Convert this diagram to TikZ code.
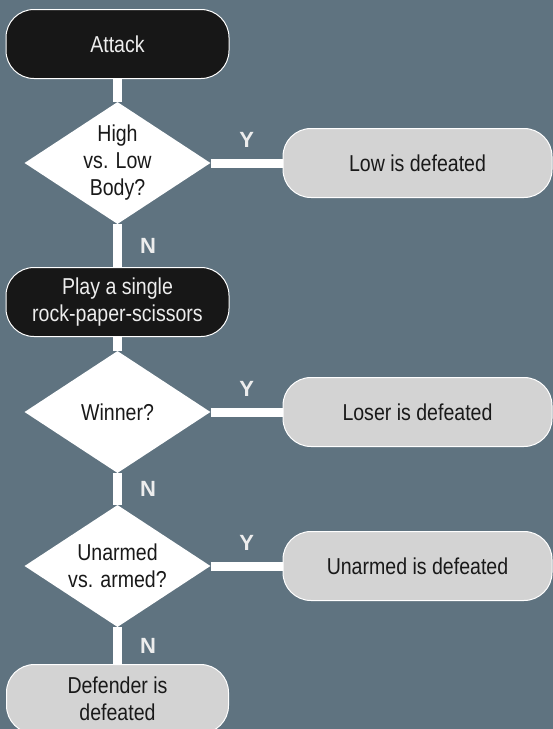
\documentclass[tikz,border=0pt]{standalone}
\usepackage{fontspec}
\setmainfont{Liberation Sans}[FakeStretch=0.85]
\newfontfamily\yesnofont{Liberation Sans}
\usetikzlibrary{positioning,shapes.geometric,backgrounds}

\definecolor{slate}{HTML}{5F7380}
\definecolor{nightfill}{HTML}{171717}
\definecolor{paperfill}{HTML}{D3D3D3}
\definecolor{chalk}{HTML}{EDEDED}

\tikzset{
  every node/.style={font=\fontsize{23}{27}\selectfont, align=center},
  darkbox/.style={rectangle, rounded corners=28pt, draw=white, line width=1pt,
    fill=nightfill, text=chalk, minimum width=223pt, minimum height=69pt},
  lightbox/.style={rectangle, rounded corners=28pt, draw=white, line width=1pt,
    fill=paperfill, text=black!90, minimum width=269pt, minimum height=69pt},
  question/.style={diamond, fill=white, inner sep=0pt, aspect=1.52,
    minimum width=186pt, minimum height=122pt, text=black!90},
  wire/.style={draw=white, line width=9pt},
  yes/.style={above=11pt, inner sep=0pt, text=chalk,
    font=\yesnofont\bfseries\fontsize{22}{22}\selectfont},
  no/.style={right=18pt, inner sep=0pt, text=chalk,
    font=\yesnofont\bfseries\fontsize{22}{22}\selectfont}
}

\begin{document}
\begin{tikzpicture}[x=1pt, y=-1pt]
  \useasboundingbox (0,0) rectangle (553,729);
  \begin{scope}[on grid, node distance=300pt]

  \node[darkbox] (attack) at (117.5,44) {Attack};
  \node[question, below=119pt of attack] (q-high) {High\\vs. Low\\Body?};
  \node[lightbox, right=of q-high] (low) {Low is defeated};
  \node[darkbox, below=139pt of q-high] (rps) {Play a single\\rock-paper-scissors};
  \node[question, below=110pt of rps] (q-win) {Winner?};
  \node[lightbox, right=of q-win] (loser) {Loser is defeated};
  \node[question, below=154pt of q-win] (q-arm) {Unarmed\\vs. armed?};
  \node[lightbox, right=of q-arm] (unarmed) {Unarmed is defeated};
  \node[lightbox, minimum width=222pt, below=133pt of q-arm] (defender) {Defender is\\defeated};

  \end{scope}

  \begin{pgfonlayer}{background}
  \fill[slate] (0,0) rectangle (553,729);

  \path[wire] (attack) edge (q-high);
  \path[wire] (q-high) edge node[yes] {Y} (low);
  \path[wire] (q-high) edge node[no] {N} (rps);
  \path[wire] (rps) edge (q-win);
  \path[wire] (q-win) edge node[yes] {Y} (loser);
  \path[wire] (q-win) edge node[no] {N} (q-arm);
  \path[wire] (q-arm) edge node[yes] {Y} (unarmed);
  \path[wire] (q-arm) edge node[no] {N} (defender);
  \end{pgfonlayer}
\end{tikzpicture}
\end{document}
